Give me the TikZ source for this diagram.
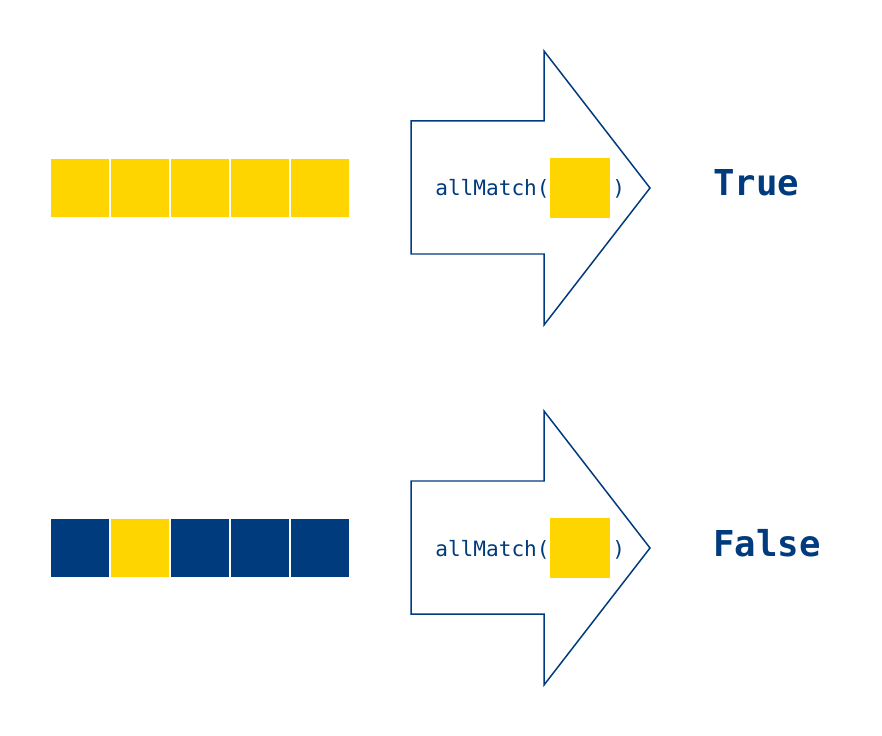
\documentclass[tikz,border=0pt]{standalone}
\usepackage{fontspec}
\setmonofont{DejaVu Sans Mono}
\definecolor{navy}{HTML}{003B7E}
\definecolor{gold}{HTML}{FFD500}
\tikzset{
  cell/.style={fill=#1,draw=none},
  bigarrow/.style={draw=navy,line width=0.85pt,line join=miter,fill=white},
  calltext/.style={anchor=base west,inner sep=0pt,text=navy,font=\ttfamily\fontsize{12pt}{14pt}\selectfont},
  result/.style={anchor=base west,inner sep=0pt,text=navy,font=\ttfamily\bfseries\fontsize{20.3pt}{24pt}\selectfont}
}
\begin{document}
\begin{tikzpicture}[x=0.02cm,y=-0.02cm]
\useasboundingbox (0,0) rectangle (882,736);
% top row: all yellow
\foreach \i in {0,...,4}
  \fill[cell=gold] (51+60*\i,159) rectangle ++(58,58);
\draw[bigarrow] (411,121) -- (544,121) -- (544,51) -- (650,188) -- (544,325) -- (544,254) -- (411,254) -- cycle;
\fill[cell=gold] (550,158) rectangle (610,218);
\node[calltext] (calltop) at (435,196) {allMatch(};
\node[calltext] (closetop) at (612,196) {)};
\node[result] (restrue) at (713,196) {True};
% bottom row: one yellow among blue
\foreach \c [count=\i from 0] in {navy,gold,navy,navy,navy}
  \fill[cell=\c] (51+60*\i,519) rectangle ++(58,58);
\draw[bigarrow] (411,481) -- (544,481) -- (544,411) -- (650,548) -- (544,685) -- (544,614) -- (411,614) -- cycle;
\fill[cell=gold] (550,518) rectangle (610,578);
\node[calltext] (callbot) at (435,556) {allMatch(};
\node[calltext] (closebot) at (612,556) {)};
\node[result] (resfalse) at (713,556) {False};
\end{tikzpicture}
\end{document}
